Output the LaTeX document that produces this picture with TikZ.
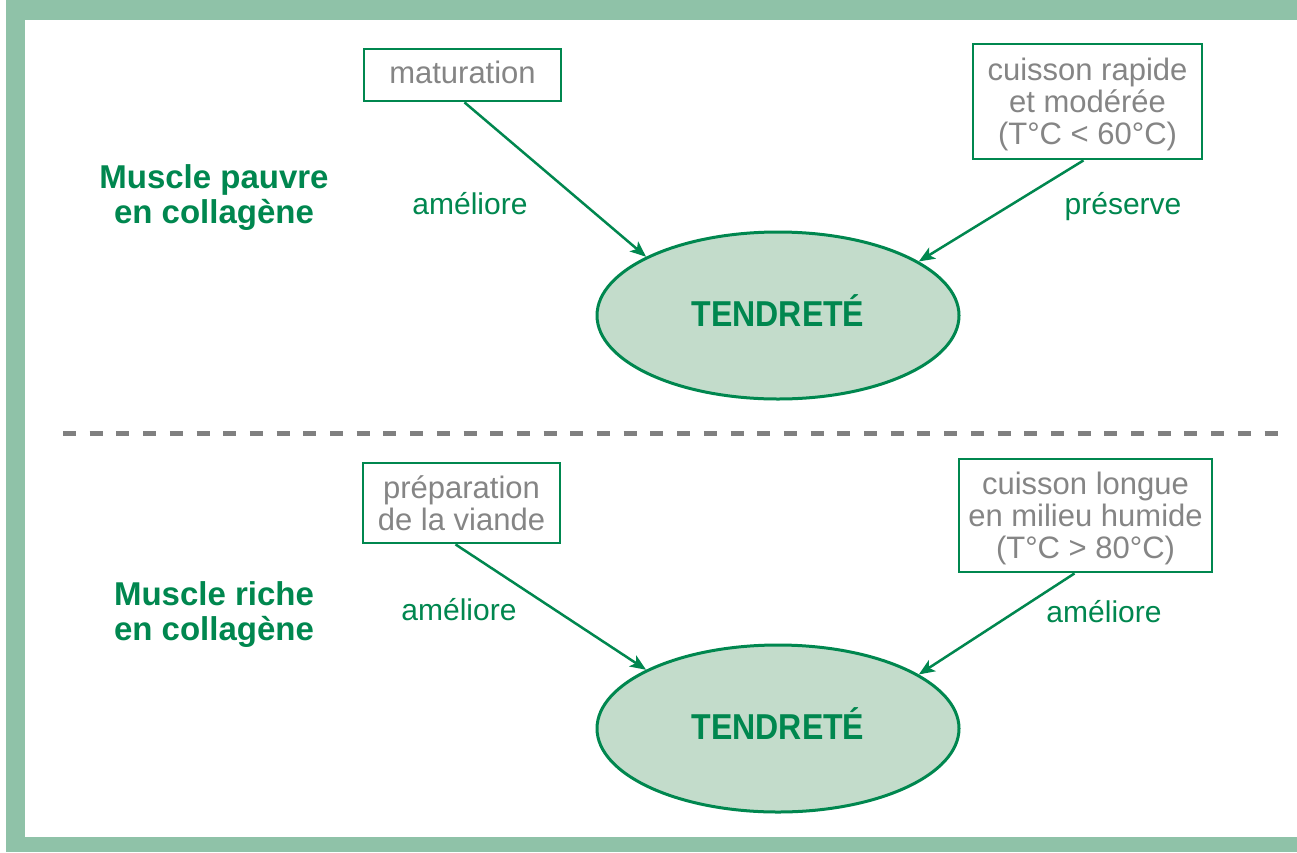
\documentclass[tikz,border=0pt]{standalone}
\usepackage{fontspec}
\setmainfont{Liberation Sans}
\newfontfamily\tendfont[FakeStretch=0.89]{Liberation Sans}
\usetikzlibrary{shapes.geometric,arrows.meta}
\definecolor{band}{HTML}{8FC2A8}
\definecolor{dgreen}{HTML}{00874F}
\definecolor{efill}{HTML}{C3DCCB}
\definecolor{gtext}{HTML}{858585}
\definecolor{dashgray}{HTML}{808080}
\begin{document}
\begin{tikzpicture}[x=1pt,y=-1pt,
 box/.style={draw=dgreen,line width=2.8pt,fill=white,inner sep=0pt,align=center,text=gtext,font=\fontsize{31}{32}\selectfont},
 tend/.style={ellipse,draw=dgreen,fill=efill,line width=3pt,minimum width=362pt,minimum height=167pt,inner sep=0pt,text=dgreen,font=\tendfont\bfseries\fontsize{36}{36}\selectfont,text height=26pt,text depth=5pt},
 lbl/.style={text=dgreen,font=\fontsize{30}{30}\selectfont,anchor=base,inner sep=0pt},
 head/.style={text=dgreen,font=\bfseries\fontsize{33}{35}\selectfont,align=center,inner sep=0pt},
 arr/.style={draw=dgreen,line width=2.5pt,-{Stealth[length=16pt,width=13pt,inset=4pt]}},
 sep/.style={draw=dashgray,line width=5pt,dash pattern=on 13pt off 13.7pt},
]
\useasboundingbox (0,0) rectangle (1297,852);
\fill[white] (0,0) rectangle (1297,852);
% frame bands
\fill[band] (6,0) rectangle (1297,20);
\fill[band] (6,0) rectangle (25,852);
\fill[band] (6,837) rectangle (1297,852);

% separator
\coordinate (s1) at (63,433);
\coordinate (s2) at (1290,433);
\draw[sep] (s1) -- (s2);

% top half
\node[head] (h1) at (214,198) {Muscle pauvre\\en collagène};
\node[box,minimum width=197pt,minimum height=52pt,text height=22pt,text depth=6pt] (mat) at (462.5,75) {maturation};
\node[box,minimum width=229pt,minimum height=115pt] (crap) at (1087.5,101.5) {\rule{0pt}{28pt}cuisson rapide\\et modérée\\(T°C < 60°C)};
\node[tend] (e1) at (778,315.5) {TENDRETÉ};
\draw[arr] ([xshift=2pt]mat.south) -- (e1.156.6);
\draw[arr] ([xshift=-4pt]crap.south) -- (e1.21.6);
\node[lbl] (l1) at (470,214) {améliore};
\node[lbl] (l2) at (1123,214) {préserve};

% bottom half
\node[head] (h2) at (214,615) {Muscle riche\\en collagène};
\node[box,minimum width=197pt,minimum height=80pt] (prep) at (461.5,503) {préparation\\de la viande};
\node[box,minimum width=253pt,minimum height=113pt] (clong) at (1085.5,515.5) {\rule{0pt}{28pt}cuisson longue\\en milieu humide\\(T°C > 80°C)};
\node[tend] (e2) at (778,728.5) {TENDRETÉ};
\draw[arr] ([xshift=-6pt]prep.south) -- (e2.156.8);
\draw[arr] ([xshift=-11pt]clong.south) -- (e2.21.5);
\node[lbl] (l3) at (459,620) {améliore};
\node[lbl] (l4) at (1104,622) {améliore};
\end{tikzpicture}
\end{document}
